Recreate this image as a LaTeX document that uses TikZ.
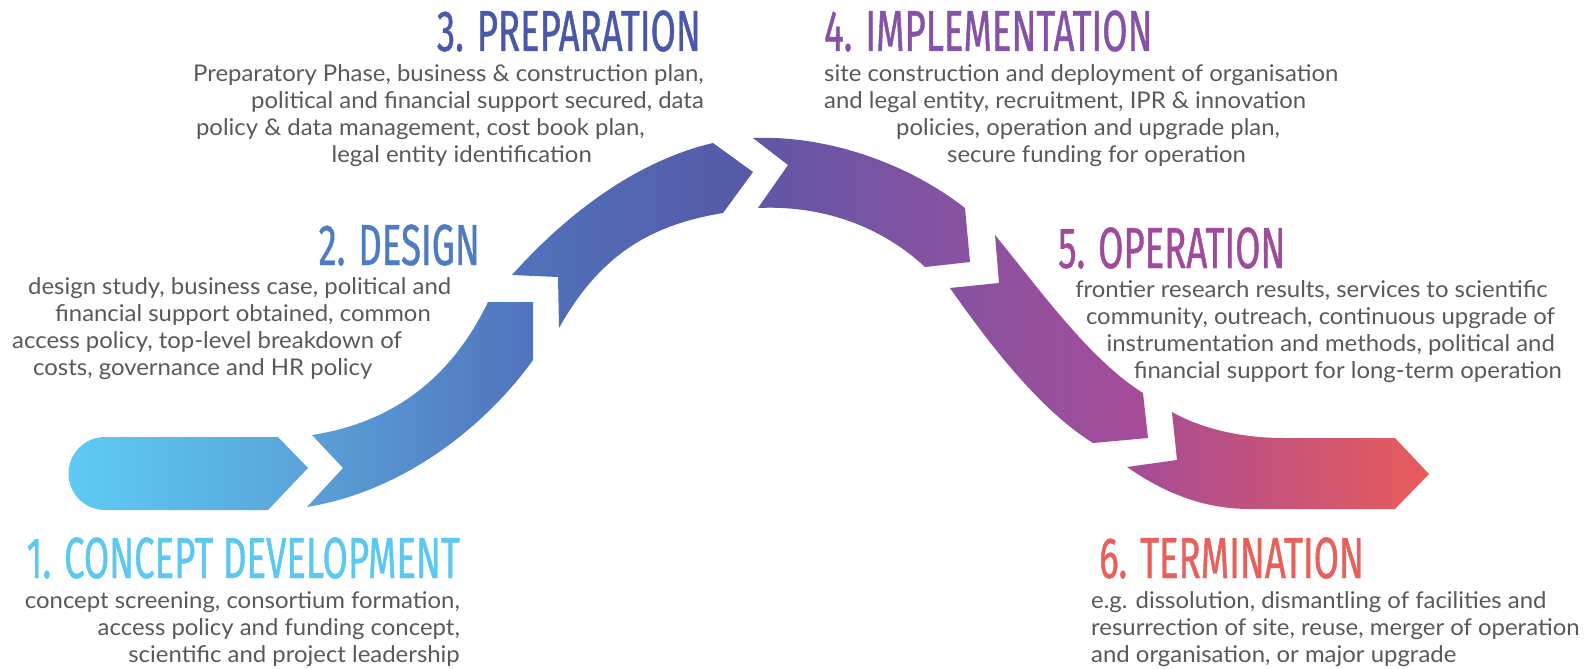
\documentclass[tikz,border=0pt]{standalone}
\usepackage{fontspec}
\setmainfont[FakeStretch=1.04]{Lato}
\newfontfamily\titlefont[FakeStretch=0.63, FakeBold=0.7]{Fira Sans}
\usepackage{tikz}
\usetikzlibrary{positioning}

\definecolor{textgray}{HTML}{595959}
\definecolor{conceptcol}{HTML}{5BC8F2}
\definecolor{designcol}{HTML}{4F7BC3}
\definecolor{prepcol}{HTML}{4B58A8}
\definecolor{implcol}{HTML}{8552A6}
\definecolor{opercol}{HTML}{A04A9C}
\definecolor{termcol}{HTML}{E8605B}

\begin{document}
\begin{tikzpicture}[x=1pt,y=-1pt,
titlenode/.style={font=\titlefont\fontsize{58}{58}\selectfont, inner sep=0pt},
textnode/.style={font=\fontsize{23}{27}\selectfont, text=textgray, inner sep=0pt},
]
\useasboundingbox[fill=white] (0,0) rectangle (1596,669);

%Arrow
\shade[left color={rgb,255:red,93;green,203;blue,244}, right color={rgb,255:red,90;green,163;blue,218}]
  (105,437) -- (278,437) -- (308,468) -- (268,510) -- (105,510)
  arc[start angle=90, end angle=270, radius=36.5] -- cycle;
\shade[left color={rgb,255:red,90;green,161;blue,216}, right color={rgb,255:red,80;green,115;blue,189}]
  (312,435) .. controls (410,420) and (460,360) .. (488,302) -- (533,302) -- (533,360)
  .. controls (490,420) and (410,490) .. (307,507) -- (343,468) -- cycle;
\shade[left color={rgb,255:red,80;green,114;blue,188}, right color={rgb,255:red,86;green,88;blue,166}]
  (512,275) .. controls (570,210) and (640,160) .. (713,143) -- (753,172) -- (723,213)
  .. controls (650,225) and (600,255) .. (559,328) -- (558,277) -- cycle;
\shade[left color={rgb,255:red,95;green,86;blue,165}, right color={rgb,255:red,138;green,82;blue,161}]
  (753,138) .. controls (830,135) and (910,165) .. (965,208) -- (970,262) -- (925,267)
  .. controls (880,225) and (820,205) .. (758,208) -- (788,165) -- cycle;
\shade[left color={rgb,255:red,135;green,82;blue,160}, right color={rgb,255:red,166;green,76;blue,152}]
  (995,235) .. controls (1040,290) and (1090,360) .. (1143,393) -- (1148,438) -- (1093,443)
  .. controls (1040,410) and (990,345) .. (950,288) -- (999,283) -- cycle;
\shade[left color={rgb,255:red,164;green,76;blue,152}, right color={rgb,255:red,233;green,91;blue,90}]
  (1172,412) .. controls (1200,428) and (1240,438) .. (1283,438) -- (1395,438) -- (1429,474)
  -- (1395,509) -- (1250,509) .. controls (1200,509) and (1160,490) .. (1127,467) -- (1177,460) -- cycle;

%Nodes
\node[titlenode, text=conceptcol, anchor=base east](concept) at (460,578) {1. CONCEPT DEVELOPMENT};
\node[textnode, align=right](concepttext)[below left=13pt and 0pt of concept.south east]{concept screening, consortium formation,\\
access policy and funding concept,\\
scientific and project leadership};

\node[titlenode, text=designcol, anchor=base east](design) at (480,265) {2. DESIGN};
\node[textnode, align=left, anchor=north west](designtext) at (12,277) {\hspace*{16pt}design study, business case, political and\\
\hspace*{43pt}financial support obtained, common\\
access policy, top-level breakdown of\\
\hspace*{21pt}costs, governance and HR policy};

\node[titlenode, text=prepcol, anchor=base east](prep) at (701,51) {3. PREPARATION};
\node[textnode, align=right](preptext)[below left=12pt and -3pt of prep.south east]{Preparatory Phase, business \& construction plan,\\
political and financial support secured, data\\
policy \& data management, cost book plan,\hspace*{59pt}\mbox{}\\
legal entity identification\hspace*{112pt}\mbox{}};

\node[titlenode, text=implcol, anchor=base west](impl) at (824,51) {4. IMPLEMENTATION};
\node[textnode, align=left](impltext)[below right=12pt and 0pt of impl.south west]{site construction and deployment of organisation\\
and legal entity, recruitment, IPR \& innovation\\
\hspace*{72pt}policies, operation and upgrade plan,\\
\hspace*{123pt}secure funding for operation};

\node[titlenode, text=opercol, anchor=base west](oper) at (1058,268) {5. OPERATION};
\node[textnode, align=right, anchor=north east](opertext) at (1562,280) {frontier research results, services to scientific\hspace*{14pt}\mbox{}\\
community, outreach, continuous upgrade of\hspace*{7pt}\mbox{}\\
instrumentation and methods, political and\hspace*{7pt}\mbox{}\\
financial support for long-term operation};

\node[titlenode, text=termcol, anchor=base west](term) at (1099,578) {6. TERMINATION};
\node[textnode, align=left](termtext)[below right=12pt and -8pt of term.south west]{e.g. dissolution, dismantling of facilities and\\
resurrection of site, reuse, merger of operation\\
and organisation, or major upgrade};
\end{tikzpicture}
\end{document}
